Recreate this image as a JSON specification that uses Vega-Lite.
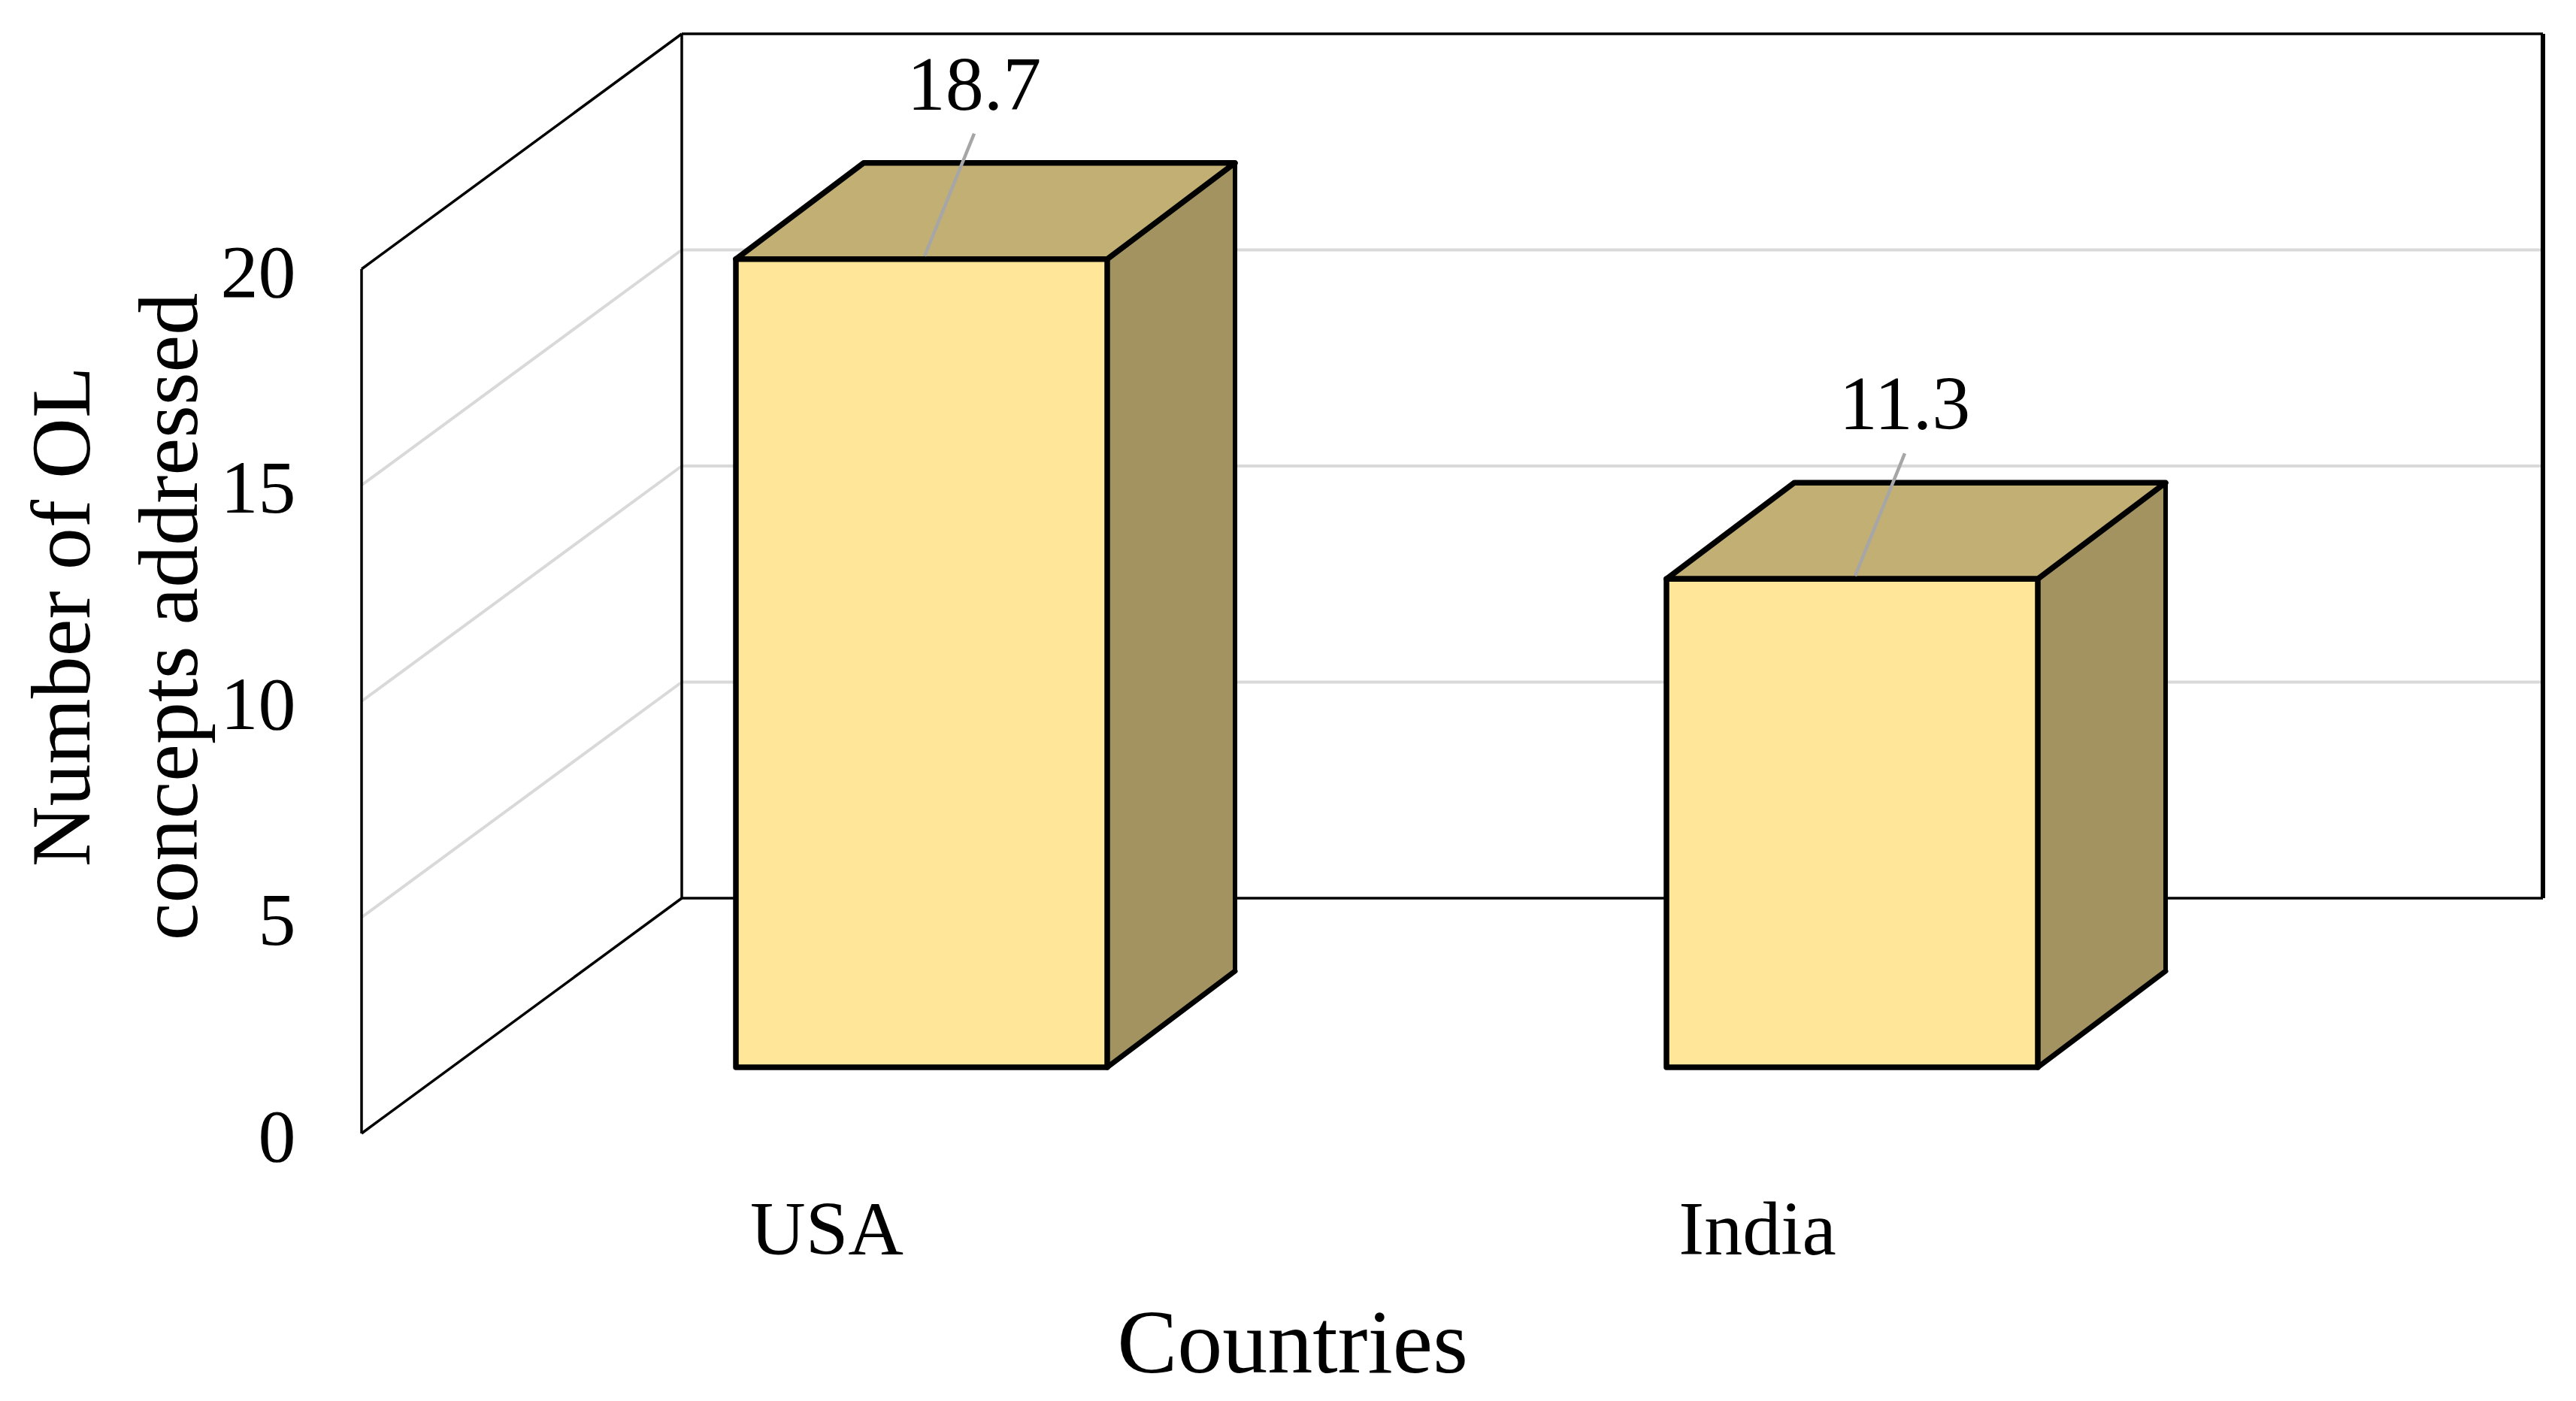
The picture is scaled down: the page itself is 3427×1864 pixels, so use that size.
{
  "$schema": "https://vega.github.io/schema/vega-lite/v6.json",
  "width": 2476,
  "height": 1150,
  "autosize": {"type": "none"},
  "padding": {"left": 481, "top": 358, "right": 470, "bottom": 356},
  "background": "white",
  "config": {
    "view": {"stroke": null},
    "font": "Liberation Serif",
    "axisX": {
      "domain": false, "ticks": false, "tickSize": 0, "grid": false,
      "labelFont": "Liberation Serif", "labelFontSize": 102, "labelColor": "black", "labelPadding": 79, "labelAngle": 0, "labelLimit": 0,
      "titleFont": "Liberation Serif", "titleFontSize": 120, "titleFontWeight": "normal", "titleColor": "black",
      "titleBaseline": "alphabetic", "titleY": 317
    },
    "axisY": {
      "domain": false, "ticks": false, "tickSize": 0, "grid": false,
      "labelFont": "Liberation Serif", "labelFontSize": 100, "labelColor": "black", "labelPadding": 88, "labelOffset": 6, "labelLimit": 0,
      "titleFont": "Liberation Serif", "titleFontSize": 112, "titleFontWeight": "normal", "titleColor": "black",
      "titleLineHeight": 143, "titleX": -397, "titleY": 462, "titleBaseline": "middle", "titleAlign": "center", "titleAngle": 270
    }
  },
  "datasets": {
    "bars": [
      {"country": "USA", "value": 18.7},
      {"country": "India", "value": 11.3}
    ],
    "grid": [{"level": 5}, {"level": 10}, {"level": 15}],
    "edges": [{"level": 0}, {"level": 20}],
    "one": [{}]
  },
  "resolve": {"scale": {"x": "independent"}},
  "layer": [
    {
      "layer": [
        {
          "data": {"name": "grid"},
          "mark": {"type": "rule", "color": "#d9d9d9", "strokeWidth": 4, "xOffset": 426, "x2Offset": 426, "yOffset": -313},
          "encoding": {
            "x": {"datum": 0, "type": "quantitative", "scale": {"domain": [0, 1], "nice": false, "zero": false}, "axis": null},
            "x2": {"datum": 1},
            "y": {
              "field": "level", "type": "quantitative", "scale": {"domain": [0, 20], "nice": false},
              "axis": {"values": [0, 5, 10, 15, 20], "format": "d", "title": ["Number of OL", "concepts addressed"]}
            }
          }
        },
        {
          "data": {"name": "grid"},
          "mark": {"type": "rule", "color": "#d9d9d9", "strokeWidth": 4, "x2Offset": 426, "y2Offset": -313},
          "encoding": {
            "x": {"datum": 0, "type": "quantitative", "axis": null},
            "x2": {"datum": 0},
            "y": {"field": "level", "type": "quantitative"},
            "y2": {"field": "level"}
          }
        },
        {
          "data": {"name": "edges"},
          "mark": {"type": "rule", "color": "black", "strokeWidth": 3.5, "xOffset": 426, "x2Offset": 426, "yOffset": -313},
          "encoding": {
            "x": {"datum": 0, "type": "quantitative", "axis": null},
            "x2": {"datum": 1},
            "y": {"field": "level", "type": "quantitative"}
          }
        },
        {
          "data": {"name": "edges"},
          "mark": {"type": "rule", "color": "black", "strokeWidth": 3.5, "x2Offset": 426, "y2Offset": -313},
          "encoding": {
            "x": {"datum": 0, "type": "quantitative", "axis": null},
            "x2": {"datum": 0},
            "y": {"field": "level", "type": "quantitative"},
            "y2": {"field": "level"}
          }
        },
        {
          "data": {"name": "one"},
          "mark": {"type": "rule", "color": "black", "strokeWidth": 3.5},
          "encoding": {
            "x": {"datum": 0, "type": "quantitative", "axis": null},
            "y": {"datum": 0, "type": "quantitative"},
            "y2": {"datum": 20}
          }
        },
        {
          "data": {"name": "one"},
          "mark": {"type": "rule", "color": "black", "strokeWidth": 3.5, "xOffset": 426, "yOffset": -313, "y2Offset": -313},
          "encoding": {
            "x": {"datum": 0, "type": "quantitative", "axis": null},
            "y": {"datum": 0, "type": "quantitative"},
            "y2": {"datum": 20}
          }
        },
        {
          "data": {"name": "one"},
          "mark": {"type": "rule", "color": "black", "strokeWidth": 6, "xOffset": 426, "yOffset": -313, "y2Offset": -313},
          "encoding": {
            "x": {"datum": 1, "type": "quantitative", "axis": null},
            "y": {"datum": 0, "type": "quantitative"},
            "y2": {"datum": 20}
          }
        }
      ]
    },
    {
      "data": {"name": "bars"},
      "layer": [
        {
          "mark": {"type": "bar", "width": 170, "xOffset": 458, "yOffset": -216, "y2Offset": -88, "fill": "#A39361", "strokeWidth": 0},
          "encoding": {
            "x": {"field": "country", "type": "nominal", "scale": {"domain": ["USA", "India"], "paddingInner": 0, "paddingOuter": 0}, "axis": {"title": "Countries"}},
            "y": {"field": "value", "type": "quantitative", "scale": {"domain": [0, 20], "nice": false}},
            "y2": {"datum": 0}
          }
        },
        {
          "mark": {"type": "point", "shape": "M0,0 L170,-128 L174,-128 L174,4 L0,4 Z", "size": 4, "filled": true, "fill": "white", "strokeWidth": 0, "opacity": 1, "xOffset": 373, "yOffset": -88},
          "encoding": {
            "x": {"field": "country", "type": "nominal"},
            "y": {"datum": 0, "type": "quantitative"}
          }
        },
        {
          "mark": {"type": "point", "shape": "M0,0 L170,-128", "size": 4, "filled": false, "stroke": "black", "strokeWidth": 7, "strokeCap": "round", "opacity": 1, "xOffset": 373, "yOffset": -88},
          "encoding": {
            "x": {"field": "country", "type": "nominal"},
            "y": {"datum": 0, "type": "quantitative"}
          }
        },
        {
          "mark": {"type": "rule", "color": "black", "strokeWidth": 6, "strokeCap": "round", "xOffset": 543, "yOffset": -216, "y2Offset": -216},
          "encoding": {
            "x": {"field": "country", "type": "nominal"},
            "y": {"field": "value", "type": "quantitative"},
            "y2": {"datum": 0}
          }
        },
        {
          "mark": {"type": "point", "shape": "M0,0 L494,0 L664,-128 L170,-128 Z", "size": 4, "filled": true, "fill": "#C2AF74", "stroke": "black", "strokeWidth": 7.5, "strokeJoin": "round", "opacity": 1, "xOffset": -121, "yOffset": -88},
          "encoding": {
            "x": {"field": "country", "type": "nominal"},
            "y": {"field": "value", "type": "quantitative"}
          }
        },
        {
          "mark": {"type": "bar", "width": 494, "xOffset": 126, "yOffset": -88, "y2Offset": -88, "fill": "#FFE699", "stroke": "black", "strokeWidth": 7.5, "strokeJoin": "round"},
          "encoding": {
            "x": {"field": "country", "type": "nominal"},
            "y": {"field": "value", "type": "quantitative"},
            "y2": {"datum": 0}
          }
        },
        {
          "mark": {"type": "point", "shape": "M0,0 L66,-163", "size": 4, "filled": false, "stroke": "#A6A6A6", "strokeWidth": 4.5, "opacity": 1, "xOffset": 130, "yOffset": -92},
          "encoding": {
            "x": {"field": "country", "type": "nominal"},
            "y": {"field": "value", "type": "quantitative"}
          }
        },
        {
          "mark": {"type": "text", "dx": 196, "dy": -318, "fontSize": 102, "font": "Liberation Serif", "color": "black", "baseline": "middle", "align": "center"},
          "encoding": {
            "x": {"field": "country", "type": "nominal"},
            "y": {"field": "value", "type": "quantitative"},
            "text": {"field": "value", "type": "quantitative", "format": ".1f"}
          }
        }
      ]
    }
  ]
}
